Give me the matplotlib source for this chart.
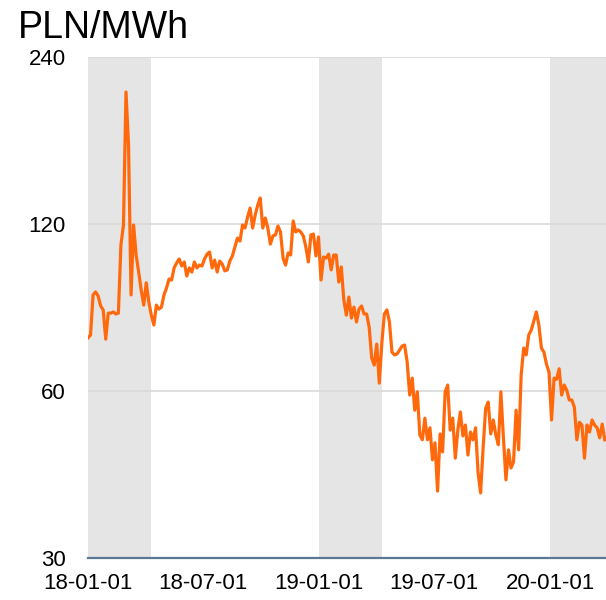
import matplotlib
matplotlib.use("Agg")
import matplotlib.pyplot as plt
import matplotlib.dates as mdates
from matplotlib.ticker import FixedLocator, NullLocator
import pandas as pd

plt.rcParams["font.family"] = ["Liberation Sans", "DejaVu Sans"]

# daily-ish wholesale price, read every 4 days from the reference
start_date = "2018-01-01"
step_days = 4
prices = [
    74.8, 75.7, 89.4, 90.5, 89.0, 85.4, 84.0, 74.4, 82.9, 82.9,
    83.3, 82.6, 82.9, 110.0, 119.5, 207.5, 166.6, 89.4, 119.5, 105.5,
    98.3, 91.2, 85.7, 94.0, 86.8, 82.2, 78.9, 85.7, 84.3, 85.0,
    89.4, 92.0, 95.5, 95.1, 100.0, 102.1, 103.8, 100.8, 102.5, 96.7,
    100.0, 98.3, 102.5, 100.0, 101.2, 100.8, 103.8, 105.9, 106.8, 100.0,
    103.3, 98.3, 102.9, 101.6, 98.8, 99.2, 102.9, 105.1, 109.1, 113.2,
    111.8, 119.5, 118.0, 123.5, 128.2, 118.0, 124.5, 129.8, 133.7, 118.0,
    123.0, 118.0, 110.4, 114.2, 114.7, 119.0, 116.1, 104.2, 101.2, 106.4,
    105.5, 121.5, 116.1, 117.1, 116.1, 114.2, 109.1, 102.5, 114.7, 115.1,
    105.1, 113.7, 95.1, 104.6, 104.2, 105.9, 99.2, 105.5, 105.5, 94.3,
    100.4, 87.5, 82.2, 88.6, 81.2, 85.0, 79.9, 84.3, 85.4, 82.6,
    82.6, 78.2, 68.8, 66.8, 72.9, 62.0, 73.2, 82.6, 84.0, 79.9,
    70.5, 69.7, 70.0, 71.1, 72.3, 72.6, 67.7, 59.0, 63.3, 55.4,
    59.8, 50.0, 49.0, 53.6, 49.0, 51.5, 45.1, 48.4, 39.6, 50.2,
    46.6, 59.8, 61.5, 51.0, 53.6, 45.4, 51.0, 55.0, 49.8, 52.1,
    46.0, 50.6, 49.0, 51.5, 42.7, 39.3, 47.5, 55.9, 57.3, 50.2,
    53.2, 50.0, 48.0, 59.8, 49.4, 41.5, 47.0, 43.6, 44.7, 55.4,
    47.0, 64.1, 71.7, 69.7, 75.7, 77.3, 80.2, 83.3, 78.9, 71.7,
    70.5, 67.1, 64.9, 53.2, 63.3, 63.0, 65.8, 59.0, 61.5, 60.2,
    57.8, 57.8, 56.1, 49.0, 52.7, 52.1, 45.4, 52.1, 50.6, 53.2,
    52.1, 51.5, 49.4, 52.3, 49.0,
]

shade_starts = ["2018-01-01", "2019-01-01", "2020-01-01"]
shade_ends = ["2018-04-11", "2019-04-11", "2020-04-11"]
y_ticks = [30, 60, 120, 240]
x_ticks = ["2018-01-01", "2018-07-01", "2019-01-01", "2019-07-01", "2020-01-01"]
x_end = "2020-03-29"

dates = pd.date_range(start_date, periods=len(prices), freq=f"{step_days}D")

fig = plt.figure(figsize=(6.06, 6.0), dpi=100)
ax = fig.add_axes([88 / 606, 42 / 600, 1 - 88 / 606, 501 / 600])

# shaded bands for the first months of each year
for s, e in zip(shade_starts, shade_ends):
    ax.axvspan(pd.Timestamp(s), pd.Timestamp(e), color="#e5e5e5", lw=0, zorder=0)

ax.plot(dates, prices, color="#ff690c", lw=2.3, zorder=3, solid_joinstyle="round")

ax.set_yscale("log", base=2)
ax.set_ylim(30, 240)
ax.yaxis.set_major_locator(FixedLocator(y_ticks))
ax.yaxis.set_minor_locator(NullLocator())
ax.set_yticklabels([str(t) for t in y_ticks])
ax.grid(axis="y", color="#d9d9d9", lw=1.2)
ax.set_axisbelow(True)

ax.set_xlim(pd.Timestamp(start_date), pd.Timestamp(x_end))
ax.set_xticks([pd.Timestamp(t) for t in x_ticks])
ax.xaxis.set_major_formatter(mdates.DateFormatter("%y-%m-%d"))

for side in ["left", "right", "top"]:
    ax.spines[side].set_visible(False)
ax.spines["bottom"].set_color("#5a7896")
ax.spines["bottom"].set_linewidth(1.6)

ax.tick_params(axis="both", length=0, labelsize=16)
ax.tick_params(axis="y", pad=16)
ax.tick_params(axis="x", pad=11)

fig.text(18 / 606, 1 - 38 / 600, "PLN/MWh", fontsize=27, ha="left", va="baseline")

fig.savefig("out.png", dpi=100)
